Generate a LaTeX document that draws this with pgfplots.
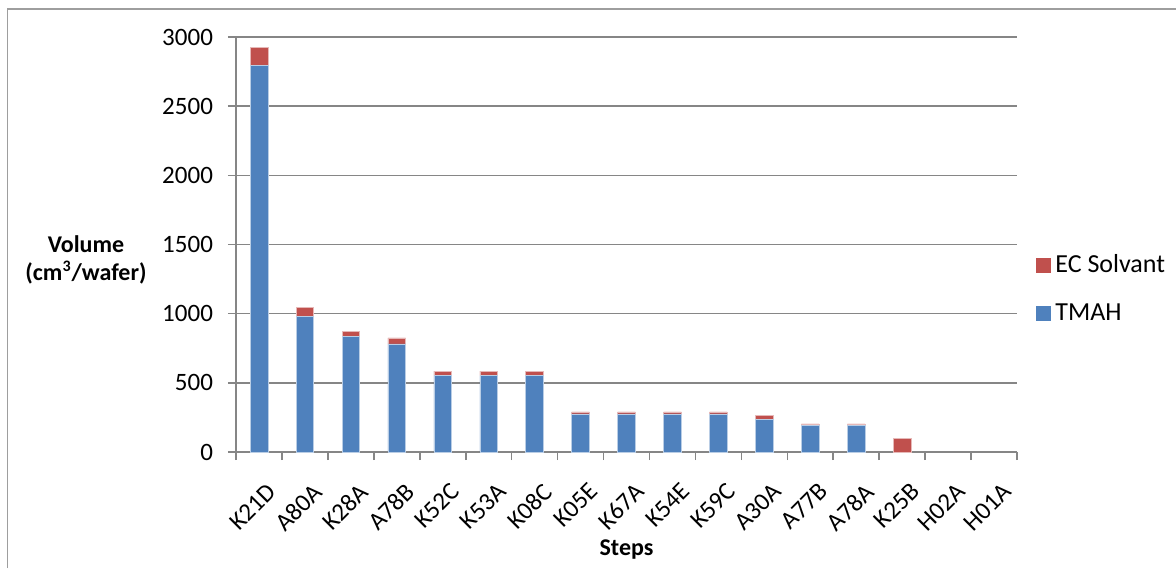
\documentclass[border=0pt]{standalone}
\usepackage{fontspec}
\setmainfont{Carlito}
\usepackage{pgfplots}
\pgfplotsset{compat=1.18}
\definecolor{tmah}{HTML}{4F81BD}
\definecolor{ecs}{HTML}{C0504D}
\definecolor{axgray}{HTML}{868686}
\pgfplotsset{squarelegend/.style={legend image code/.code={\path[#1,draw=none] (0pt,-3.75pt) rectangle (7.5pt,3.75pt);}}}
\begin{document}
\begin{tikzpicture}
\path[use as bounding box] (-118pt,-58pt) rectangle (470pt,226pt);
\draw[axgray!80, line width=0.8pt] (-114.25pt,-58pt) -- (-114.25pt,221.35pt) -- (470pt,221.35pt);
\begin{axis}[
  at={(0,0)}, anchor=south west,
  scale only axis,
  width=390.5pt, height=207.5pt,
  ybar stacked,
  bar width=8.85pt,
  ymin=0, ymax=3000,
  xmin=-0.5, xmax=16.5,
  ytick={0,500,...,3000},
  xtick={-0.5,0.5,...,16.5},
  x tick label as interval,
  xticklabels={K21D,A80A,K28A,A78B,K52C,K53A,K08C,K05E,K67A,K54E,K59C,A30A,A77B,A78A,K25B,H02A,H01A},
  axis x line*=bottom,
  axis y line*=left,
  axis line style={axgray, line width=1pt},
  ymajorgrids,
  grid style={axgray, line width=0.8pt},
  tick align=outside,
  major tick length=4pt,
  tick style={axgray, line width=0.8pt},
  font=\fontsize{12}{14}\selectfont,
  /pgf/number format/assume math mode=true,
  /pgf/number format/1000 sep={},
  yticklabel style={font=\fontsize{12.5}{14}\selectfont, xshift=-4pt},
  xticklabel style={font=\fontsize{12.5}{14}\selectfont, rotate=45, anchor=north east, inner sep=1pt, yshift=-9pt, xshift=-4pt},
  xlabel={\bfseries Steps},
  xlabel style={font=\fontsize{12}{14}\selectfont\bfseries, at={(0.5,0)}, anchor=center, yshift=-49pt},
  ylabel style={font=\fontsize{12}{14}\selectfont\bfseries, rotate=-90, align=center, at={(rel axis cs:0,0.464)}, anchor=center, xshift=-75pt},
  ylabel={Volume\\(cm\textsuperscript{3}/wafer)},
  legend style={at={(1.0243,0.393)}, anchor=west, draw=none, fill=none, font=\fontsize{13}{15}\selectfont, row sep=10pt, inner sep=0pt},
  legend cell align=left,
  reverse legend,
]
\addplot[fill=tmah, draw=tmah!40!white, line width=0.3pt, squarelegend] coordinates {
(0,2795) (1,978) (2,835) (3,782) (4,553) (5,553) (6,553) (7,276) (8,276) (9,276) (10,276) (11,236) (12,191) (13,191) (14,0) (15,0) (16,0)};
\addlegendentry{TMAH}
\addplot[fill=ecs, draw=ecs!40!white, line width=0.3pt, squarelegend] coordinates {
(0,130) (1,67) (2,38) (3,43) (4,31) (5,31) (6,31) (7,14) (8,14) (9,14) (10,14) (11,28) (12,12) (13,12) (14,101) (15,0) (16,0)};
\addlegendentry{EC Solvant}
\end{axis}
\end{tikzpicture}
\end{document}
